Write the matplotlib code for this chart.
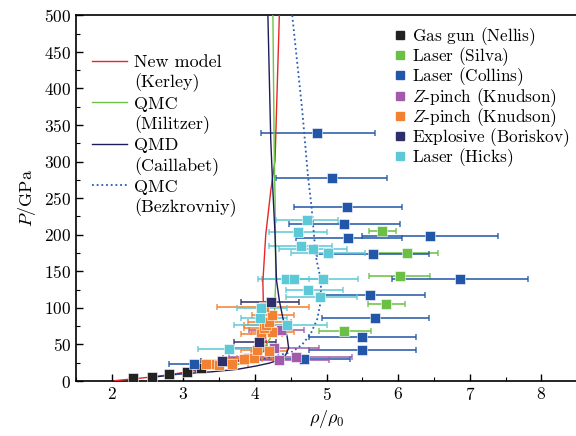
import matplotlib
matplotlib.use("Agg")
import matplotlib.pyplot as plt
from matplotlib.lines import Line2D

plt.rcParams['font.family'] = 'serif'
plt.rcParams['font.serif'] = ['cmr10']
plt.rcParams['mathtext.fontset'] = 'cm'
plt.rcParams['axes.formatter.use_mathtext'] = True

# curvas teoricas
kerley_rho = [2.04, 2.3, 2.55, 2.8, 3.05, 3.3, 3.55, 3.8, 3.98, 4.10, 4.17, 4.15, 4.12, 4.11, 4.15, 4.22, 4.28, 4.34]
kerley_P = [0.5, 3, 5.5, 8.5, 12.5, 17, 22, 28, 34, 39, 45, 60, 90, 136, 200, 260, 302, 500]

militzer_rho = [3.3, 3.7, 3.94, 4.10, 4.22, 4.27, 4.29, 4.28, 4.27, 4.25]
militzer_P = [17, 22, 26, 40, 60, 90, 138, 250, 300, 500]

caillabet_rho = [2.55, 2.94, 3.40, 3.75, 4.01, 4.20, 4.34, 4.43, 4.47, 4.45, 4.40, 4.34, 4.30, 4.28, 4.25, 4.22, 4.18]
caillabet_P = [5, 9.6, 12.7, 16, 20.5, 24.5, 29, 36, 45, 60, 81, 110, 138, 200, 260, 330, 500]

bezk_rho = [2.7, 3.0, 3.36, 3.82, 4.24, 4.52, 4.66, 4.78, 4.87, 4.92, 4.92, 4.85, 4.79, 4.74, 4.66, 4.52]
bezk_P = [7, 10.5, 17, 24, 33, 40, 50, 65, 85, 110, 138, 170, 238, 280, 370, 500]

# datos experimentales: rho, P, limite inferior y superior de rho
nellis_rho = [2.29, 2.56, 2.80, 3.05, 3.25]
nellis_P = [4, 6, 9, 13, 18]
nellis_lo = [2.26, 2.53, 2.77, 3.02, 3.22]
nellis_hi = [2.32, 2.59, 2.83, 3.08, 3.28]

silva_rho = [3.34, 5.25, 5.83, 6.02, 6.13, 5.78]
silva_P = [24, 69, 105, 144, 175, 204.5]
silva_lo = [3.24, 4.89, 5.58, 5.59, 5.69, 5.59]
silva_hi = [3.44, 5.62, 6.09, 6.44, 6.56, 5.97]

collins_rho = [3.15, 4.68, 5.50, 5.50, 5.68, 5.61, 6.86, 5.65, 6.44, 5.30, 5.25, 5.29, 5.07, 4.87]
collins_P = [23, 30.5, 43, 60, 86, 117.5, 139, 174, 198, 196, 215, 238, 278, 339]
collins_lo = [2.80, 4.00, 4.75, 4.75, 4.93, 4.89, 5.92, 4.87, 5.50, 4.57, 4.48, 4.54, 4.30, 4.08]
collins_hi = [3.50, 5.33, 6.25, 6.25, 6.43, 6.37, 7.82, 6.43, 7.39, 6.05, 6.03, 6.05, 5.84, 5.67]

knud1_rho = [3.90, 4.34, 4.57, 4.27, 4.36]
knud1_P = [32, 29, 32.4, 44.6, 70]
knud1_lo = [3.55, 3.70, 3.64, 3.65, 3.92]
knud1_hi = [4.25, 5.03, 5.35, 4.90, 4.68]

knud2_rho = [3.31, 3.45, 3.50, 3.68, 3.85, 3.99, 4.03, 4.20, 4.08, 4.24, 4.13, 4.15, 4.20, 4.24, 4.13]
knud2_P = [24, 24, 22, 24, 30, 31, 42, 41, 65, 67, 72, 76, 81, 90, 101]
knud2_lo = [3.15, 3.30, 3.30, 3.45, 3.60, 3.75, 3.80, 3.95, 3.80, 3.95, 3.85, 3.85, 3.90, 3.96, 3.47]
knud2_hi = [3.47, 3.62, 3.70, 3.90, 4.10, 4.25, 4.28, 4.45, 4.38, 4.55, 4.40, 4.46, 4.50, 4.54, 4.75]

boriskov_rho = [3.54, 4.06, 4.22]
boriskov_P = [27, 54, 108]
boriskov_lo = [3.24, 3.71, 3.81]
boriskov_hi = [3.82, 4.29, 4.62]

hicks_rho = [3.63, 4.07, 4.45, 4.08, 4.91, 4.74, 4.43, 4.54, 4.95, 5.02, 4.81, 4.64, 4.60, 4.72]
hicks_P = [44, 86, 76, 100, 115, 125, 139, 139, 140, 175, 180, 185, 204, 220]
hicks_lo = [3.20, 3.81, 3.70, 3.75, 4.43, 4.43, 4.04, 4.10, 4.50, 4.50, 4.34, 4.20, 4.20, 4.29]
hicks_hi = [4.30, 4.45, 5.00, 4.45, 5.43, 5.23, 4.75, 5.00, 5.44, 5.54, 5.28, 5.08, 5.00, 5.16]

series = [
    (r'$\text{Gas gun (Nellis)}$', nellis_rho, nellis_P, nellis_lo, nellis_hi, '#222222'),
    (r'$\text{Laser (Silva)}$', silva_rho, silva_P, silva_lo, silva_hi, '#6bbf45'),
    (r'$\text{Laser (Collins)}$', collins_rho, collins_P, collins_lo, collins_hi, '#2156a8'),
    (r'$Z\text{-pinch (Knudson)}$', knud1_rho, knud1_P, knud1_lo, knud1_hi, '#a45aaa'),
    (r'$Z\text{-pinch (Knudson)}$', knud2_rho, knud2_P, knud2_lo, knud2_hi, '#f28132'),
    (r'$\text{Explosive (Boriskov)}$', boriskov_rho, boriskov_P, boriskov_lo, boriskov_hi, '#2e2e6a'),
    (r'$\text{Laser (Hicks)}$', hicks_rho, hicks_P, hicks_lo, hicks_hi, '#5dc8d6'),
]

fig = plt.figure(figsize=(5.76, 4.36), dpi=100)
ax = fig.add_axes([0.132, 0.126, 0.870, 0.839])

proxies = []
for nombre, r, p, lo, hi, col in series:
    xerr = [[ri - l for ri, l in zip(r, lo)], [h - ri for ri, h in zip(r, hi)]]
    ax.errorbar(r, p, xerr=xerr, fmt='none', ecolor=col, elinewidth=1.3,
                capsize=2.5, capthick=1.1, alpha=0.85, zorder=2)
    ax.plot(r, p, 's', color=col, ms=7, mec='white', mew=0.4, zorder=4)
    proxies.append(Line2D([], [], ls='none', marker='s', color=col, ms=5.5, mec=col))

l1, = ax.plot(kerley_rho, kerley_P, color='#e8262a', lw=1.0, zorder=3)
l2, = ax.plot(militzer_rho, militzer_P, color='#6cc444', lw=1.0, zorder=3)
l3, = ax.plot(caillabet_rho, caillabet_P, color='#1c1c5a', lw=1.0, zorder=3)
l4, = ax.plot(bezk_rho, bezk_P, color='#2a5cb0', lw=1.3, ls=(0, (1, 1.6)), zorder=3)

blank = Line2D([], [], ls='none')
leg1 = ax.legend([l1, blank, l2, blank, l3, blank, l4, blank],
                 ['New model', '(Kerley)', 'QMC', '(Militzer)', 'QMD', '(Caillabet)',
                  'QMC', '(Bezkrovniy)'],
                 loc='upper left', bbox_to_anchor=(0.031, 0.893), frameon=False,
                 fontsize=13, handlelength=1.95, handletextpad=0.4, labelspacing=0.2,
                 borderpad=0, borderaxespad=0)
ax.add_artist(leg1)
ax.legend(proxies, [s[0] for s in series], loc='upper left',
          bbox_to_anchor=(0.635, 0.973), frameon=False, fontsize=12.4,
          handlelength=0.7, handletextpad=0.35, labelspacing=-0.14,
          borderpad=0, borderaxespad=0)

ax.set_xlim(1.5, 8.5)
ax.set_ylim(0, 500)
ax.set_xticks([2, 3, 4, 5, 6, 7, 8])
ax.set_xticks([1.5 + 0.5 * i for i in range(15)], minor=True)
ax.set_yticks([0, 50, 100, 150, 200, 250, 300, 350, 400, 450, 500])
ax.set_yticks([25 + 50 * i for i in range(10)], minor=True)
ax.tick_params(direction='in', which='major', length=5, width=1.0, labelsize=12.5)
ax.tick_params(direction='in', which='minor', length=3, width=0.8)
ax.set_xlabel(r'$\rho/\rho_0$', fontsize=13)
ax.set_ylabel(r'$P$/GPa', fontsize=13)
for s in ax.spines.values():
    s.set_linewidth(1.2)

fig.savefig('out.png', dpi=100)
